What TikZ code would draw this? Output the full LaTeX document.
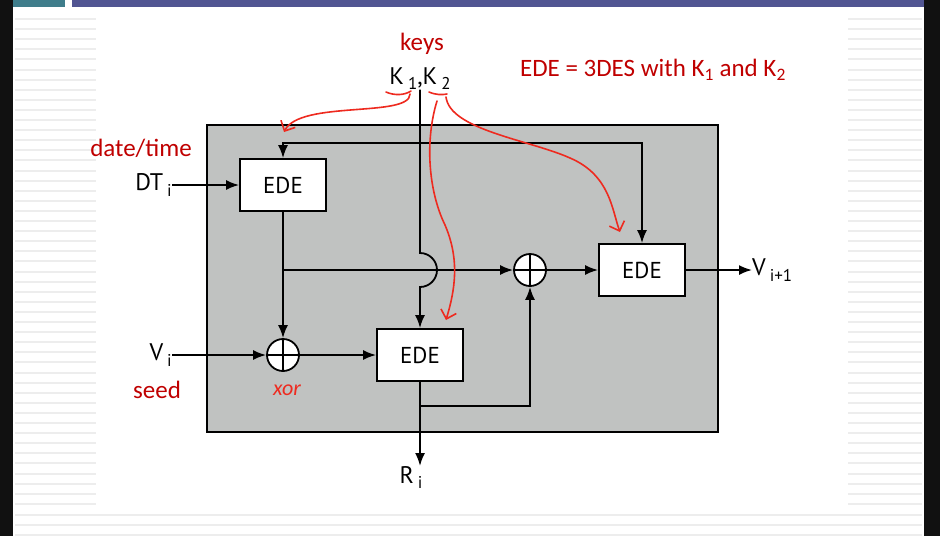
\documentclass[tikz,border=0pt]{standalone}
\usepackage{fontspec}
\setmainfont{Carlito}
\newfontfamily\diagfont{PT Sans}
\usetikzlibrary{arrows.meta,positioning,calc}
\definecolor{frame}{HTML}{111111}
\definecolor{barteal}{HTML}{3F7D8B}
\definecolor{barblue}{HTML}{515592}
\definecolor{stripe}{HTML}{EDEDED}
\definecolor{panel}{HTML}{C0C2C1}
\definecolor{notered}{HTML}{C00000}
\definecolor{pen}{HTML}{EE2A1F}
\newcommand{\idx}[1]{\raisebox{-0.45ex}{\fontsize{17}{17}\selectfont #1}}
\tikzset{
  ede/.style={draw, line width=1.8pt, fill=white, minimum width=86pt,
              minimum height=52pt, inner sep=0pt,
              font=\diagfont\fontsize{23}{26}\selectfont},
  xorn/.style={circle, draw, line width=1.8pt, fill=white, minimum size=32pt,
               inner sep=0pt,
               path picture={\draw[line width=1.8pt]
                 (path picture bounding box.north) -- (path picture bounding box.south)
                 (path picture bounding box.west) -- (path picture bounding box.east);}},
  wire/.style={line width=1.8pt},
  ar/.style={wire, -{Latex[length=13pt,width=10pt]}},
  io/.style={font=\diagfont\fontsize{24}{26}\selectfont, inner sep=0pt},
  notelbl/.style={text=notered, font=\fontsize{25}{30}\selectfont, inner sep=0pt},
  scrawl/.style={draw=pen, line width=1.6pt, line cap=round,
                 -{Straight Barb[length=8pt,width=16pt]}},
  penline/.style={draw=pen, line width=1.6pt, line cap=round},
}

\begin{document}
\begin{tikzpicture}[x=1pt,y=-1pt]
  % slide background
  \fill[white] (0,0) rectangle (940,536);
  \useasboundingbox (0,0) rectangle (940,536);
  \fill[frame] (0,0) rectangle (13,536);
  \fill[frame] (924,0) rectangle (940,536);
  \fill[barteal] (13,0) rectangle (65,7);
  \fill[barblue] (72,0) rectangle (924,7);
  \foreach \i in {0,...,48} {
    \draw[stripe, line width=2pt] (15,19+\i*10.1) -- (96,19+\i*10.1);
    \draw[stripe, line width=2pt] (848,19+\i*10.1) -- (922,19+\i*10.1);
  }
  \foreach \y in {515,525,535}
    \draw[stripe, line width=2pt] (15,\y) -- (922,\y);

  % generator
  \node[draw, line width=1.8pt, fill=panel, minimum width=511pt,
        minimum height=307pt, inner sep=0pt] (panel) at (462.5,278.5) {};
  \node[ede] (e1) at (283,185) {EDE};
  \node[ede] (e2) at (420,355) {EDE};
  \node[ede] (e3) at (642,270) {EDE};
  \node[xorn] (x1) at (283,355) {};
  \node[xorn] (x2) at (530,270) {};

  \node[io, anchor=base] (k) at (420,84) {K\,\idx{1},K\,\idx{2}};
  \node[io, anchor=east] (dt) at (172,185) {DT\,\idx{i}};
  \node[io, anchor=east] (vi) at (172,355) {V\,\idx{i}};
  \node[io, anchor=west] (vo) at (752,270) {V\,\idx{i+1}};
  \node[io, anchor=north] (ri) at (411,466) {R\,\idx{i}};

  \coordinate (kd) at (420,143);
  \coordinate (jmp) at (420,270);
  \coordinate (br) at (283,270);
  \coordinate (tap) at (420,406);

  \draw[ar] (k.south) -- ([yshift=17pt]jmp)
            arc[start angle=90, end angle=-90, radius=17pt] -- (e2.north);
  \draw[ar] (kd) -| (e1.north);
  \draw[ar] (kd) -| (e3.north);
  \draw[ar] (dt.east) -- (e1.west);
  \draw[ar] (e1) -- (x1);
  \draw[ar] (br) -- (x2);
  \draw[ar] (vi.east) -- (x1.west);
  \draw[ar] (x1) -- (e2);
  \draw[ar] (e2) -- (e2 |- ri.north);
  \draw[ar] (tap) -| (x2.south);
  \draw[ar] (x2) -- (e3);
  \draw[ar] (e3) -- (vo.west);

  % notes
  \node[notelbl] (keys) at (422,44) {keys};
  \node[notelbl] (date) at (141,148) {date/time};
  \node[notelbl] (seed) at (157,390) {seed};
  \node[notelbl] (eq) at (653,70) {EDE = 3DES with K\textsubscript{1} and K\textsubscript{2}};
  \node[text=pen, font=\itshape\fontsize{22}{24}\selectfont, inner sep=0pt]
       (xr) at (287,390) {xor};

  \draw[penline] (386,92) .. controls (395,96) and (405,95) .. (411,91);
  \draw[penline] (429,92) .. controls (436,95) and (442,95) .. (447,94);
  \draw[scrawl] (410,94) .. controls (410,118) and (300,100) .. (284,132);
  \draw[scrawl] (437,101) .. controls (425,140) and (428,190) .. (445,225)
                .. controls (460,260) and (455,290) .. (446,320);
  \draw[scrawl] (446,97) .. controls (450,130) and (530,140) .. (570,158)
                .. controls (610,175) and (612,210) .. (620,232);
\end{tikzpicture}
\end{document}
